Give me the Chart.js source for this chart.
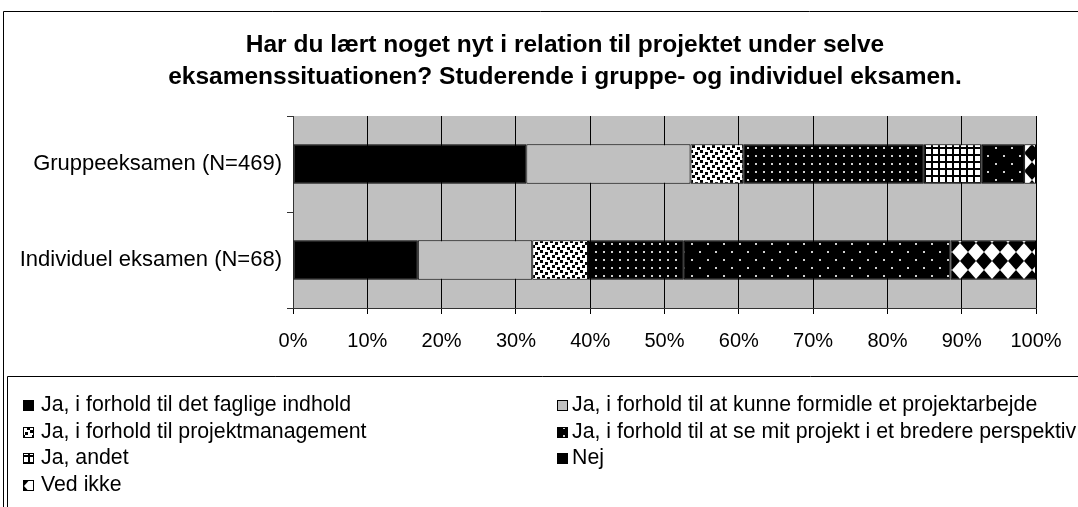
<!DOCTYPE html>
<html>
<head>
<meta charset="utf-8">
<script src="https://cdn.jsdelivr.net/npm/chart.js@4"></script>
<style>
  body { margin: 0; background: #fff; }
  #wrap { width: 1078px; height: 507px; }
</style>
</head>
<body>
<div id="wrap"><canvas id="myChart" width="1078" height="507"></canvas></div>
<script>
// data (percent of each group)
var categories = ['Gruppeeksamen (N=469)', 'Individuel eksamen (N=68)'];
var faglige = [31.4, 16.8];
var formidle = [22.1, 15.4];
var projektmanagement = [7.1, 7.5];
var perspektiv = [24.3, 12.9];
var andet = [7.8, 0];
var nej = [5.7, 35.9];
var vedIkke = [1.6, 11.5];
var xTicks = [0, 10, 20, 30, 40, 50, 60, 70, 80, 90, 100];

var seriesNames = [
  'Ja, i forhold til det faglige indhold',
  'Ja, i forhold til at kunne formidle et projektarbejde',
  'Ja, i forhold til projektmanagement',
  'Ja, i forhold til at se mit projekt i et bredere perspektiv',
  'Ja, andet',
  'Nej',
  'Ved ikke'
];
var titleLines = [
  'Har du lært noget nyt i relation til projektet under selve',
  'eksamenssituationen? Studerende i gruppe- og individuel eksamen.'
];

var FONT = '"Liberation Sans", Arial, sans-serif';

// little helper to build the fill patterns
function makePattern(w, h, draw) {
  var c = document.createElement('canvas');
  c.width = w;
  c.height = h;
  var g = c.getContext('2d');
  draw(g, w, h);
  return g.createPattern(c, 'repeat');
}

var patSolidBlack = '#000000';
var patGray = '#c0c0c0';
var patChecker = makePattern(10, 10, function (g) {
  g.fillStyle = '#fff'; g.fillRect(0, 0, 10, 10);
  g.fillStyle = '#000';
  g.fillRect(0, 0, 3, 3);
  g.fillRect(5, 2, 3, 3);
  g.fillRect(2, 5, 3, 3);
  g.fillRect(7, 7, 3, 3);
});
var patDense = makePattern(8, 8, function (g) {
  g.fillStyle = '#000'; g.fillRect(0, 0, 8, 8);
  g.fillStyle = '#d0d0d0'; g.fillRect(3, 3, 2, 2);
});
var patGrid = makePattern(7, 7, function (g) {
  g.fillStyle = '#000'; g.fillRect(0, 0, 7, 7);
  g.fillStyle = '#fff'; g.fillRect(2, 2, 5, 5);
});
var patSparse = makePattern(16, 16, function (g) {
  g.fillStyle = '#000'; g.fillRect(0, 0, 16, 16);
  g.fillStyle = '#d0d0d0';
  g.fillRect(3, 3, 2, 2);
  g.fillRect(11, 11, 2, 2);
});
var patDiamond = makePattern(16, 18, function (g) {
  g.fillStyle = '#fff'; g.fillRect(0, 0, 16, 18);
  g.fillStyle = '#000';
  g.beginPath();
  g.moveTo(8, 0); g.lineTo(16, 9); g.lineTo(8, 18); g.lineTo(0, 9);
  g.closePath();
  g.fill();
});

var fills = [patSolidBlack, patGray, patChecker, patDense, patGrid, patSparse, patDiamond];
var values = [faglige, formidle, projektmanagement, perspektiv, andet, nej, vedIkke];

var datasets = [];
for (var i = 0; i < seriesNames.length; i++) {
  datasets.push({
    label: seriesNames[i],
    data: values[i],
    backgroundColor: fills[i],
    borderColor: '#000',
    borderWidth: 1,
    borderSkipped: false,
    categoryPercentage: 1,
    barPercentage: 0.41
  });
}

// frame, grey plot area and the title
var backdrop = {
  id: 'backdrop',
  beforeDraw: function (chart) {
    var ctx = chart.ctx;
    var a = chart.chartArea;
    ctx.save();
    ctx.fillStyle = '#fff';
    ctx.fillRect(0, 0, chart.width, chart.height);
    ctx.fillStyle = '#c0c0c0';
    ctx.fillRect(a.left, a.top, a.right - a.left, a.bottom - a.top);

    ctx.strokeStyle = '#000';
    ctx.lineWidth = 1;
    ctx.beginPath();
    ctx.moveTo(3.5, chart.height);
    ctx.lineTo(3.5, 11.5);
    ctx.lineTo(chart.width, 11.5);
    ctx.stroke();

    ctx.fillStyle = '#000';
    ctx.font = 'bold 24.5px ' + FONT;
    ctx.textAlign = 'center';
    ctx.textBaseline = 'middle';
    ctx.fillText(titleLines[0], 565, 45);
    ctx.fillText(titleLines[1], 565, 77);
    ctx.restore();
  }
};

// two column legend inside its own box, like the original
var boxLegend = {
  id: 'boxLegend',
  afterDraw: function (chart) {
    var ctx = chart.ctx;
    ctx.save();
    ctx.strokeStyle = '#000';
    ctx.lineWidth = 1;
    ctx.beginPath();
    ctx.moveTo(7.5, chart.height);
    ctx.lineTo(7.5, 376.5);
    ctx.lineTo(chart.width, 376.5);
    ctx.stroke();

    ctx.font = '21.3px ' + FONT;
    ctx.textBaseline = 'middle';
    ctx.textAlign = 'left';
    chart.data.datasets.forEach(function (ds, idx) {
      var col = idx % 2;
      var row = Math.floor(idx / 2);
      var y = 405 + row * 26.7;
      var bx = col === 0 ? 23 : 557;
      var tx = col === 0 ? 41 : 572;
      ctx.fillStyle = ds.backgroundColor;
      ctx.fillRect(bx, Math.round(y - 5), 11, 11);
      ctx.strokeStyle = '#000';
      ctx.strokeRect(bx + 0.5, Math.round(y - 5) + 0.5, 10, 10);
      ctx.fillStyle = '#000';
      ctx.fillText(ds.label, tx, y);
    });
    ctx.restore();
  }
};

var ctx = document.getElementById('myChart').getContext('2d');
var myChart = new Chart(ctx, {
  type: 'bar',
  data: { labels: categories, datasets: datasets },
  plugins: [backdrop, boxLegend],
  options: {
    indexAxis: 'y',
    responsive: false,
    animation: false,
    events: [],
    layout: { padding: { top: 116, right: 42, bottom: 149, left: 0 } },
    plugins: {
      legend: { display: false },
      title: { display: false },
      tooltip: { enabled: false }
    },
    scales: {
      x: {
        stacked: true,
        min: 0,
        max: 100,
        afterFit: function (scale) { scale.height = 50; },
        afterBuildTicks: function (scale) {
          scale.ticks = xTicks.map(function (v) { return { value: v }; });
        },
        ticks: {
          color: '#000',
          padding: 15,
          maxRotation: 0,
          font: { family: FONT, size: 20 },
          callback: function (v) { return v + '%'; }
        },
        grid: { color: '#000', lineWidth: 1, tickLength: 6 },
        border: { color: '#333' }
      },
      y: {
        stacked: true,
        afterFit: function (scale) { scale.width = 293; },
        ticks: {
          color: '#000',
          padding: 5,
          font: { family: FONT, size: 22 }
        },
        grid: { offset: true, drawOnChartArea: false, color: '#333', tickLength: 6 },
        border: { color: '#333' }
      }
    }
  }
});
</script>
</body>
</html>
